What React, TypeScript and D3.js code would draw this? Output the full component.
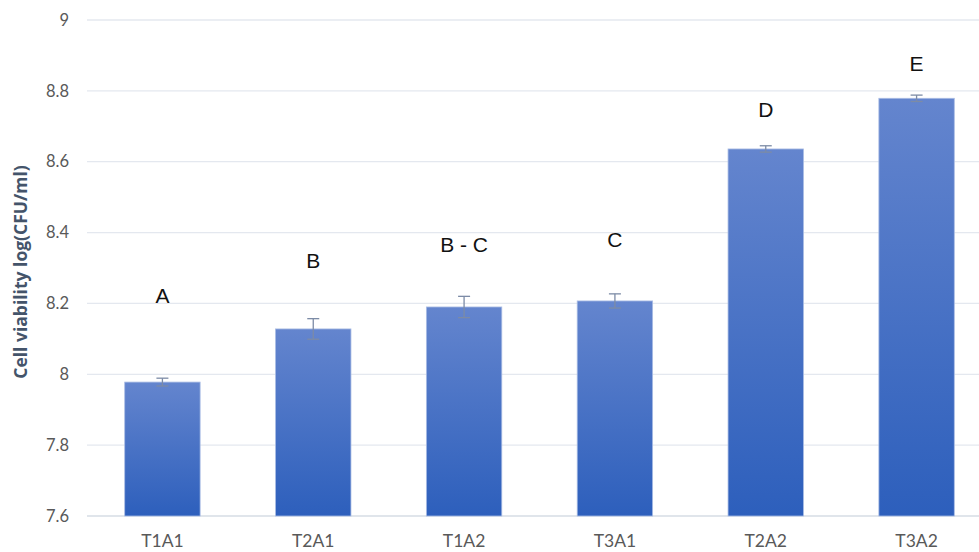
import React from "react";
import * as d3 from "d3";

const categories = ["T1A1", "T2A1", "T1A2", "T3A1", "T2A2", "T3A2"];
const values = [7.978, 8.128, 8.19, 8.207, 8.636, 8.779];
const errors = [0.011, 0.029, 0.03, 0.02, 0.009, 0.009];
const letters = ["A", "B", "B - C", "C", "D", "E"];
const letterY = [8.222, 8.322, 8.367, 8.38, 8.747, 8.878];
const yTicks = [7.6, 7.8, 8, 8.2, 8.4, 8.6, 8.8, 9];

const W = 979;
const H = 552;

export default function App() {
  const x = d3.scaleBand<string>().domain(categories).range([87, 992]).paddingInner(0.5).paddingOuter(0.25);
  const y = d3.scaleLinear().domain([7.6, 9]).range([516, 20]);
  const fmt = (v: number) => (Number.isInteger(v) ? String(v) : v.toFixed(1));
  const font = "Lato, 'Open Sans', 'Liberation Sans', sans-serif";
  return (
    <svg width={W} height={H} style={{ position: "fixed", left: 0, top: 0, background: "#fff" }}>
      <defs>
        <linearGradient id="barGrad" x1="0" y1="0" x2="0" y2="1">
          <stop offset="0%" stopColor="#6485CE" />
          <stop offset="100%" stopColor="#2D5FBC" />
        </linearGradient>
      </defs>
      {yTicks.map((t) => (
        <g key={t}>
          <line x1={87} x2={W} y1={y(t)} y2={y(t)} stroke={t === 7.6 ? "#D6DCE5" : "#E4E8EF"} strokeWidth={1.3} />
          <text x={69} y={y(t)} dy="0.35em" textAnchor="end" fontFamily={font} fontSize={16.5} fill="#595959">
            {fmt(t)}
          </text>
        </g>
      ))}
      <text
        transform={`translate(21,${(y(7.6) + y(9)) / 2 + 4}) rotate(-90)`}
        textAnchor="middle"
        dy="0.35em"
        fontFamily="'Open Sans', Lato, sans-serif"
        fontWeight="bold"
        fontSize={17.5}
        fill="#44546A"
      >
        Cell viability log(CFU/ml)
      </text>
      {categories.map((c, i) => {
        const bx = x(c)!;
        const bw = x.bandwidth();
        const cx = bx + bw / 2;
        const top = y(values[i]);
        const eTop = y(values[i] + errors[i]);
        const eBot = y(values[i] - errors[i]);
        return (
          <g key={c}>
            <rect x={bx} y={top} width={bw} height={y(7.6) - top} fill="url(#barGrad)" stroke="#A9BCE4" strokeWidth={0.8} />
            <line x1={cx} x2={cx} y1={eTop} y2={eBot} stroke="#7C8BA6" strokeWidth={1.3} />
            <line x1={cx - 6} x2={cx + 6} y1={eTop} y2={eTop} stroke="#7C8BA6" strokeWidth={1.3} />
            <line x1={cx - 6} x2={cx + 6} y1={eBot} y2={eBot} stroke="#7C8BA6" strokeWidth={1.3} />
            <text x={cx} y={y(letterY[i])} dy="0.35em" textAnchor="middle" fontFamily="'Liberation Sans', Arial, sans-serif" fontSize={21} fill="#111">
              {letters[i]}
            </text>
            <text x={cx} y={541} dy="0.35em" textAnchor="middle" fontFamily={font} fontSize={17.5} fill="#595959">
              {c}
            </text>
          </g>
        );
      })}
    </svg>
  );
}
